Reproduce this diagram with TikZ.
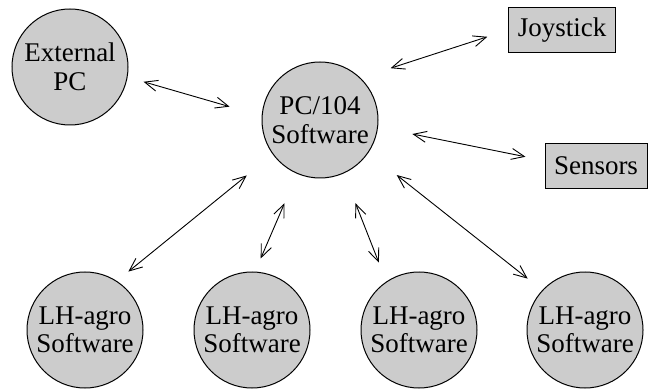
\documentclass[tikz,border=0pt]{standalone}
\usepackage{fontspec}
\setmainfont{Liberation Serif}
\usepackage{tikz}
\usetikzlibrary{arrows.meta}

\begin{document}
\begin{tikzpicture}[x=1pt,y=-1pt,
  unit/.style={draw,circle,fill=black!20,line width=1pt,minimum size=116pt,inner sep=0pt,align=center,
    font=\fontsize{27}{28.5}\selectfont},
  dev/.style={draw,rectangle,fill=black!20,line width=1pt,minimum height=45pt,inner xsep=9pt,
    font=\fontsize{27}{28.5}\selectfont},
  link/.style={<->,>={Straight Barb[length=13pt,width=11pt]},line width=0.9pt}]
  \useasboundingbox (0,0) rectangle (648,390);
  \node (pc) at (320,120) [unit] {PC/104\\Software};
  \node (ext) at (70,67) [unit] {External\\PC};
  \node (joy) at (562,30) [dev] {Joystick};
  \node (sens) at (596,166) [dev] {Sensors};
  \node (lh1) at (85,330) [unit] {LH-agro\\Software};
  \node (lh2) at (252,330) [unit] {LH-agro\\Software};
  \node (lh3) at (419,330) [unit] {LH-agro\\Software};
  \node (lh4) at (585,330) [unit] {LH-agro\\Software};
\draw [link,shorten <=16.6pt,shorten >=33.4pt] (ext.-10) -- (pc.176);
\draw [link,shorten <=31.5pt,shorten >=22pt] (pc.46) -- (joy.180);
\draw [link,shorten <=35pt,shorten >=19.4pt] (pc.-7) -- (sens.174);
\draw [link,shorten <=33.4pt,shorten >=14.8pt] (pc.216) -- (lh1.57);
\draw [link,shorten <=32pt,shorten >=14.3pt] (pc.247) -- (lh2.87);
\draw [link,shorten <=32pt,shorten >=20.4pt] (pc.-66) -- (lh3.124);
\draw [link,shorten <=36pt,shorten >=18.5pt] (pc.-34) -- (lh4.137);
\end{tikzpicture}
\end{document}
